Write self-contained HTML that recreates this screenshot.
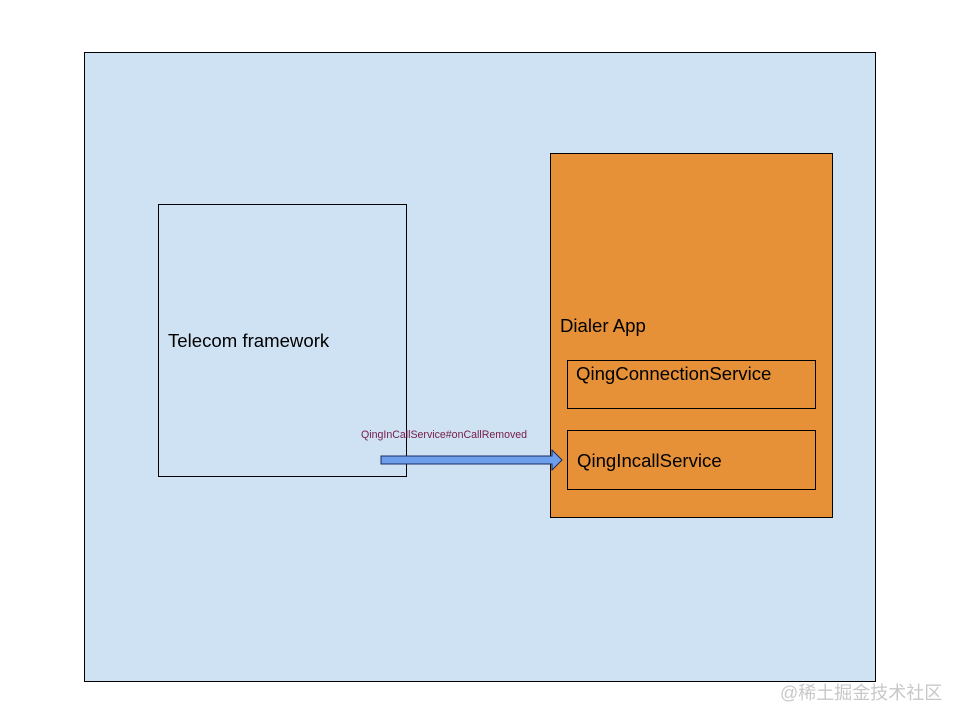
<!DOCTYPE html>
<html><head><meta charset="utf-8"><style>
body{margin:0;width:960px;height:720px;background:#fff;position:relative;overflow:hidden;font-family:"Liberation Sans","Noto Sans CJK SC",sans-serif}
.a{position:absolute;box-sizing:border-box}
.t{position:absolute;white-space:nowrap;font-size:18.6px;color:#000}
</style></head><body>
<div class="a" style="left:84px;top:52px;width:792px;height:630px;background:#cfe2f3;border:1px solid #000"></div>
<div class="a" style="left:158px;top:204px;width:249px;height:273px;border:1px solid #000"></div>
<div class="t" style="left:168px;top:330px">Telecom framework</div>
<div class="a" style="left:550px;top:153px;width:283px;height:365px;background:#e69138;border:1px solid #000"></div>
<div class="t" style="left:560px;top:315px">Dialer App</div>
<div class="a" style="left:567px;top:360px;width:249px;height:49px;border:1px solid #000"></div>
<div class="t" style="left:576px;top:363px">QingConnectionService</div>
<div class="a" style="left:567px;top:430px;width:249px;height:60px;border:1px solid #000"></div>
<div class="t" style="left:577px;top:450px">QingIncallService</div>
<div class="t" style="left:361px;top:429px;font-size:10.6px;color:#741b47">QingInCallService#onCallRemoved</div>
<svg class="a" style="left:0;top:0" width="960" height="720"><polygon points="381,456 552,456 552,450 562,460 552,470 552,464 381,464" fill="#6d9eeb" stroke="#1c2a66" stroke-width="1"/></svg>
<div class="t" style="left:780px;top:679px;font-size:18px;color:#c8c8c8">@稀土掘金技术社区</div>
</body></html>
